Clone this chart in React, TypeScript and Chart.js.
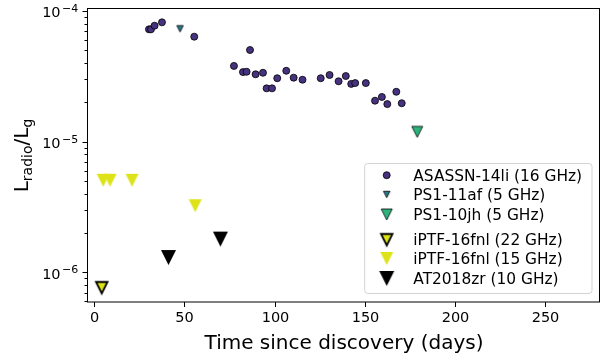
import { useEffect, useRef } from 'react';
import { Chart, registerables } from 'chart.js';

Chart.register(...registerables);

const FONT = '"DejaVu Sans", "Liberation Sans", sans-serif';

// ASASSN-14li (16 GHz): days since discovery and L_radio / L_g
const asassnDays = [
  30.4, 31.5, 33.5, 37.6, 55.5, 77.5, 82.5, 84.5, 86.4, 89.5, 93.6, 95.6, 98.6, 101.5, 106.5,
  110.6, 115.5, 125.6, 130.5, 135.5, 139.5, 142.5, 144.7, 150.6, 155.7, 159.5, 162.5, 167.5, 170.5,
];
const asassnRatio = [
  7.24e-5, 7.24e-5, 7.72e-5, 8.19e-5, 6.36e-5, 3.8e-5, 3.41e-5, 3.43e-5, 5.03e-5, 3.28e-5, 3.37e-5,
  2.56e-5, 2.56e-5, 3.06e-5, 3.49e-5, 3.09e-5, 2.98e-5, 3.06e-5, 3.24e-5, 2.9e-5, 3.18e-5, 2.77e-5,
  2.81e-5, 2.81e-5, 2.06e-5, 2.2e-5, 1.94e-5, 2.41e-5, 1.97e-5,
];

// PS1-11af (5 GHz)
const ps111afDays = [47.6];
const ps111afRatio = [7.31e-5];

// PS1-10jh (5 GHz)
const ps110jhDays = [179.1];
const ps110jhRatio = [1.19e-5];

// iPTF-16fnl (22 GHz)
const iptf22Days = [4.2];
const iptf22Ratio = [7.64e-7];

// iPTF-16fnl (15 GHz)
const iptf15Days = [5.0, 8.8, 21.0, 56.0];
const iptf15Ratio = [5.07e-6, 5.07e-6, 5.07e-6, 3.24e-6];

// AT2018zr (10 GHz)
const at2018Days = [41.2, 70.0];
const at2018Ratio = [1.3e-6, 1.8e-6];

const seriesLabels = [
  'ASASSN-14li (16 GHz)',
  'PS1-11af (5 GHz)',
  'PS1-10jh (5 GHz)',
  'iPTF-16fnl (22 GHz)',
  'iPTF-16fnl (15 GHz)',
  'AT2018zr (10 GHz)',
];

// axis ticks
const xTickValues = [0, 50, 100, 150, 200, 250];
const yDecadeExponents = [-6, -5, -4];
const xRange = [-3.4, 280.4];
const yRange = [5.94e-7, 1.036e-4];

const xTitle = 'Time since discovery (days)';

const PURPLE = '#46327e';
const TEAL = '#277a8d';
const GREEN = '#2db37b';
const YELLOW = '#dde318';

function zip(xs: number[], ys: number[]) {
  return xs.map((x, i) => ({ x, y: ys[i] }));
}

// downward triangle marker, as wide as it is tall
function makeTriangle(size: number, fill: string, edge: string, lw: number) {
  const pad = Math.ceil(lw) + 1;
  const dim = Math.round(size + 2 * pad);
  const c = document.createElement('canvas');
  c.width = dim;
  c.height = dim;
  const g = c.getContext('2d')!;
  const h = size / 2;
  const cx = dim / 2;
  g.beginPath();
  g.moveTo(cx - h, cx - h);
  g.lineTo(cx + h, cx - h);
  g.lineTo(cx, cx + h);
  g.closePath();
  g.fillStyle = fill;
  g.fill();
  if (lw > 0) {
    g.lineWidth = lw;
    g.strokeStyle = edge;
    g.lineJoin = 'miter';
    g.stroke();
  }
  return c;
}

export default function App() {
  const ref = useRef<HTMLCanvasElement>(null);

  useEffect(() => {
    const canvas = ref.current!;
    const triPS11af = makeTriangle(6.5, TEAL, '#000', 0.8);
    const triPS10jh = makeTriangle(11, GREEN, '#000', 0.8);
    const triIptf22 = makeTriangle(11.5, YELLOW, '#000', 1.8);
    const triIptf15 = makeTriangle(13, YELLOW, YELLOW, 0);
    const triAT = makeTriangle(15, '#000', '#000', 0);

    const legendMarkers: (HTMLCanvasElement | null)[] = [null, triPS11af, triPS10jh, triIptf22, triIptf15, triAT];

    const decor = {
      id: 'decor',
      afterDraw(chart: any) {
        const { ctx, chartArea: a } = chart;
        const xs = chart.scales.x;
        const ys = chart.scales.y;
        ctx.save();

        // frame
        ctx.strokeStyle = '#000';
        ctx.lineWidth = 1;
        ctx.strokeRect(a.left - 0.5, a.top - 0.5, a.right - a.left, a.bottom - a.top + 0.5);

        // x ticks and labels
        ctx.fillStyle = '#000';
        ctx.font = `14.5px ${FONT}`;
        ctx.textAlign = 'center';
        ctx.textBaseline = 'alphabetic';
        for (const v of xTickValues) {
          const px = Math.round(xs.getPixelForValue(v)) + 0.5;
          ctx.beginPath();
          ctx.moveTo(px, a.bottom);
          ctx.lineTo(px, a.bottom + 5);
          ctx.stroke();
          ctx.fillText(String(v), px, a.bottom + 19.5);
        }

        // y ticks (log decades + minors)
        for (let e = -7; e <= -4; e++) {
          for (let k = 1; k <= 9; k++) {
            const v = k * Math.pow(10, e);
            if (v < yRange[0] || v > yRange[1]) continue;
            const py = Math.round(ys.getPixelForValue(v)) + 0.5;
            const len = k === 1 ? 5 : 3;
            ctx.beginPath();
            ctx.moveTo(a.left - 0.5, py);
            ctx.lineTo(a.left - 0.5 - len, py);
            ctx.stroke();
          }
        }
        for (const e of yDecadeExponents) {
          const py = ys.getPixelForValue(Math.pow(10, e));
          const sup = '\u2212' + String(-e);
          ctx.textAlign = 'left';
          ctx.font = `11px ${FONT}`;
          const supW = ctx.measureText(sup).width;
          ctx.font = `14.5px ${FONT}`;
          const baseW = ctx.measureText('10').width;
          const right = a.left - 9.7;
          const supX = right - supW;
          const baseX = supX - 1.5 - baseW;
          ctx.fillText('10', baseX, py + 6.3);
          ctx.font = `11px ${FONT}`;
          ctx.fillText(sup, supX, py + 0.9);
        }

        // x title
        ctx.font = `20px ${FONT}`;
        ctx.textAlign = 'center';
        ctx.fillText(xTitle, (a.left + a.right) / 2, 348.5);

        // y title: L_radio / L_g
        const parts: [string, number, number][] = [
          ['L', 20, 0],
          ['radio', 14, 3.7],
          ['/L', 20, 0],
          ['g', 14, 3.7],
        ];
        let total = 0;
        for (const [t, s] of parts) {
          ctx.font = `${s}px ${FONT}`;
          total += ctx.measureText(t).width;
        }
        ctx.save();
        ctx.translate(28, (a.top + a.bottom) / 2);
        ctx.rotate(-Math.PI / 2);
        ctx.textAlign = 'left';
        let cx = -total / 2;
        for (const [t, s, dy] of parts) {
          ctx.font = `${s}px ${FONT}`;
          ctx.fillText(t, cx, dy);
          cx += ctx.measureText(t).width;
        }
        ctx.restore();

        // legend (lower right)
        const lw = 227.3;
        const lh = 130;
        const lx = a.right - 8 - lw;
        const ly = a.bottom - 8.5 - lh;
        ctx.beginPath();
        ctx.roundRect(lx, ly, lw, lh, 3);
        ctx.fillStyle = 'rgba(255,255,255,0.8)';
        ctx.fill();
        ctx.strokeStyle = '#d3d3d3';
        ctx.lineWidth = 1;
        ctx.stroke();
        const rowCenters = [11.7, 31, 51, 76.2, 95, 115];
        ctx.font = `15.4px ${FONT}`;
        ctx.textAlign = 'left';
        chart.data.datasets.forEach((ds: any, i: number) => {
          const cy = ly + rowCenters[i];
          const mx = lx + 22;
          const m = legendMarkers[i];
          if (m) {
            ctx.drawImage(m, mx - m.width / 2, cy - m.height / 2);
          } else {
            ctx.beginPath();
            ctx.arc(mx, cy, 3.5, 0, Math.PI * 2);
            ctx.fillStyle = PURPLE;
            ctx.fill();
            ctx.strokeStyle = '#000';
            ctx.lineWidth = 0.8;
            ctx.stroke();
          }
          ctx.fillStyle = '#000';
          ctx.fillText(ds.label, lx + 48.6, cy + 5.6);
        });

        ctx.restore();
      },
    };

    const chart = new Chart(canvas, {
      type: 'scatter',
      data: {
        datasets: [
          {
            label: seriesLabels[0],
            data: zip(asassnDays, asassnRatio),
            pointStyle: 'circle',
            pointRadius: 3.5,
            pointBackgroundColor: PURPLE,
            pointBorderColor: '#000',
            pointBorderWidth: 0.8,
          },
          {
            label: seriesLabels[1],
            data: zip(ps111afDays, ps111afRatio),
            pointStyle: triPS11af,
            pointRadius: 5,
          },
          {
            label: seriesLabels[2],
            data: zip(ps110jhDays, ps110jhRatio),
            pointStyle: triPS10jh,
            pointRadius: 5,
          },
          {
            label: seriesLabels[3],
            data: zip(iptf22Days, iptf22Ratio),
            pointStyle: triIptf22,
            pointRadius: 5,
          },
          {
            label: seriesLabels[4],
            data: zip(iptf15Days, iptf15Ratio),
            pointStyle: triIptf15,
            pointRadius: 5,
          },
          {
            label: seriesLabels[5],
            data: zip(at2018Days, at2018Ratio),
            pointStyle: triAT,
            pointRadius: 5,
          },
        ],
      },
      options: {
        responsive: false,
        animation: false,
        devicePixelRatio: 1,
        events: [],
        layout: { padding: { left: 88, right: 14, top: 9, bottom: 52 } },
        plugins: { legend: { display: false }, tooltip: { enabled: false } },
        scales: {
          x: { type: 'linear', min: xRange[0], max: xRange[1], display: false },
          y: { type: 'logarithmic', min: yRange[0], max: yRange[1], display: false },
        },
      },
      plugins: [decor],
    } as any);

    return () => chart.destroy();
  }, []);

  return (
    <div style={{ position: 'fixed', left: 0, top: 0, width: 614, height: 354, background: '#fff' }}>
      <canvas ref={ref} width={614} height={354} style={{ display: 'block' }} />
    </div>
  );
}
